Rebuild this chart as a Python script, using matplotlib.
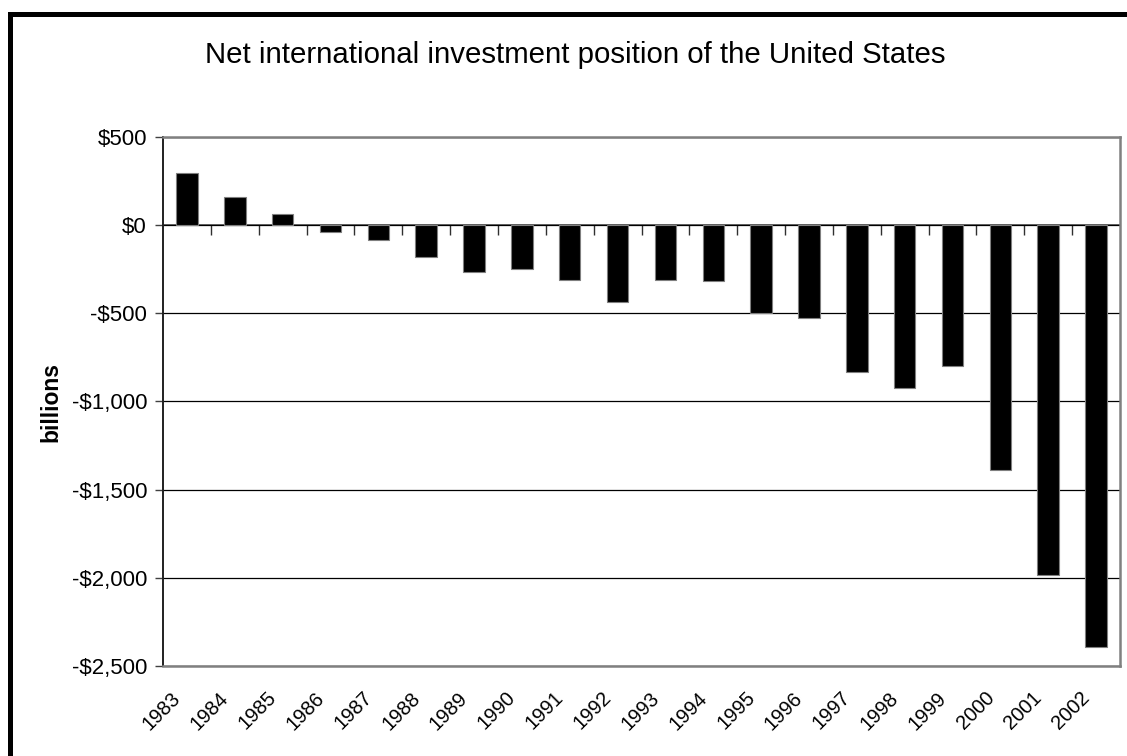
import numpy as np
import matplotlib.pyplot as plt
import matplotlib.transforms as mtransforms
from matplotlib.lines import Line2D

plt.rcParams["font.family"] = ["Liberation Sans", "DejaVu Sans"]

# Net international investment position, billions of dollars
years = [str(y) for y in range(1983, 2003)]
niip = [298, 161, 62, -40, -82, -182, -264, -248, -312, -434,
        -309, -314, -498, -524, -835, -921, -800, -1390, -1982, -2390]
y_ticks = [500, 0, -500, -1000, -1500, -2000, -2500]


def money(v):
    return f"-${abs(v):,}" if v < 0 else f"${v:,}"


W, H = 1127, 756
fig = plt.figure(figsize=(W / 100, H / 100), dpi=100)
fig.patch.set_facecolor("white")

# plot area in pixel terms
left, right, top, bottom = 163, 1120, 137, 666
ax = fig.add_axes([left / W, 1 - bottom / H, (right - left) / W, (bottom - top) / H])

x = np.arange(len(years))
ax.bar(x, niip, width=0.45, color="black", edgecolor="#7f7f7f", linewidth=0.8, zorder=3)

ax.set_xlim(-0.5, len(years) - 0.5)
ax.set_ylim(-2500, 500)
ax.set_yticks(y_ticks)
ax.set_yticklabels([money(v) for v in y_ticks], fontsize=16)
ax.yaxis.grid(True, color="black", linewidth=0.9, zorder=0)
ax.set_axisbelow(True)

ax.set_xticks(x)
ax.set_xticklabels(years, rotation=45, ha="right", va="top", rotation_mode="anchor", fontsize=14.5)
ax.tick_params(axis="x", length=0, pad=16)
ax.tick_params(axis="y", length=6, width=1, color="#404040", direction="out", pad=5.5)
shift = mtransforms.ScaledTranslation(-0.16, 0, fig.dpi_scale_trans)
for lab in ax.get_xticklabels():
    lab.set_transform(lab.get_transform() + shift)

for s in ("top", "right", "bottom"):
    ax.spines[s].set_color("#808080")
    ax.spines[s].set_linewidth(1.8)
ax.spines["left"].set_color("#202020")
ax.spines["left"].set_linewidth(1.4)

# category axis crossing at zero, ticks between categories
zero_pos = (0 - (-2500)) / 3000
sec = ax.secondary_xaxis(zero_pos)
sec.set_xticks(x[:-1] + 0.5)
sec.set_xticklabels([])
sec.tick_params(axis="x", direction="in", length=7, width=1, color="#303030")
for s in sec.spines.values():
    s.set_color("#505050")
    s.set_linewidth(1.2)

ax.set_ylabel("billions", fontsize=16.5, fontweight="bold", labelpad=6.5)

fig.text(0.510, 1 - 63 / H, "Net international investment position of the United States",
         ha="center", va="baseline", fontsize=21.2)

# chart frame (thick black on left and top)
fig.add_artist(Line2D([9.5 / W, 9.5 / W], [0, 1 - 14 / H], color="black", linewidth=3.6,
                      transform=fig.transFigure, solid_capstyle="projecting"))
fig.add_artist(Line2D([9.5 / W, 1], [1 - 14 / H, 1 - 14 / H], color="black", linewidth=3.6,
                      transform=fig.transFigure, solid_capstyle="projecting"))

fig.savefig("out.png", dpi=100, facecolor=fig.get_facecolor())
